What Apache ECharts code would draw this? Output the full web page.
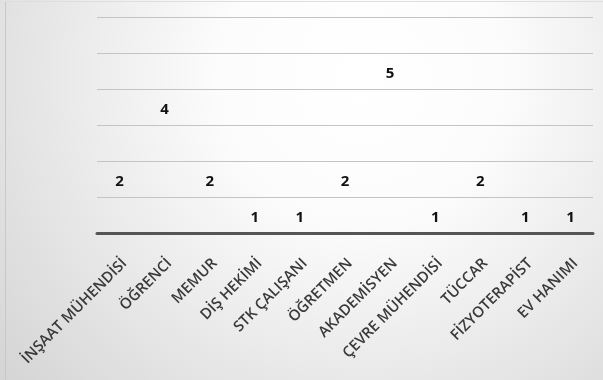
<!DOCTYPE html>
<html>
<head>
<meta charset="utf-8">
<script src="https://cdn.jsdelivr.net/npm/echarts@6/dist/echarts.min.js"></script>
<style>
  html, body { margin: 0; padding: 0; background: #ffffff; }
  #chart { width: 603px; height: 380px; }
</style>
</head>
<body>
<div id="chart"></div>
<script>
// Meslek dağılımı (kişi sayısı)
const categories = [
  'İNŞAAT MÜHENDİSİ', 'ÖĞRENCİ', 'MEMUR', 'DİŞ HEKİMİ', 'STK ÇALIŞANI',
  'ÖĞRETMEN', 'AKADEMİSYEN', 'ÇEVRE MÜHENDİSİ', 'TÜCCAR', 'FİZYOTERAPİST', 'EV HANIMI'
];
const counts = [2, 4, 2, 1, 1, 2, 5, 1, 2, 1, 1];
const yMax = 6;

const chart = echarts.init(document.getElementById('chart'), null, { renderer: 'canvas' });

chart.setOption({
  animation: false,
  backgroundColor: {
    type: 'radial', x: 0.6, y: 0.2, r: 1.25,
    colorStops: [
      { offset: 0, color: '#ffffff' },
      { offset: 0.3, color: '#fcfcfc' },
      { offset: 1, color: '#d4d4d4' }
    ]
  },
  graphic: [
    { type: 'line', shape: { x1: 5.5, y1: 1, x2: 5.5, y2: 380 }, style: { stroke: '#c8c8c8', lineWidth: 1 } },
    { type: 'line', shape: { x1: 5, y1: 1.5, x2: 603, y2: 1.5 }, style: { stroke: '#dedede', lineWidth: 1 } }
  ],
  grid: { left: 97, right: 10, top: 17, bottom: 147, containLabel: false },
  xAxis: {
    type: 'category',
    data: categories,
    axisLine: { show: true, lineStyle: { color: '#555555', width: 3 } },
    axisTick: { show: false },
    axisLabel: {
      rotate: 45,
      interval: 0,
      margin: 33,
      padding: [0, -7, 0, 0],
      color: '#3a3a3a',
      fontFamily: 'Open Sans',
      fontWeight: 600,
      fontSize: 15
    }
  },
  yAxis: {
    type: 'value',
    min: 0,
    max: yMax,
    interval: 1,
    axisLabel: { show: false },
    axisLine: { show: false },
    axisTick: { show: false },
    splitLine: { lineStyle: { color: '#c4c4c4', width: 1 } }
  },
  series: [{
    type: 'bar',
    data: counts,
    barWidth: '60%',
    itemStyle: { color: 'rgba(255,255,255,0)' },
    label: {
      show: true,
      position: 'insideTop',
      distance: 13,
      color: '#111111',
      fontFamily: 'Open Sans',
      fontWeight: 700,
      fontSize: 15
    }
  }]
});
</script>
</body>
</html>
